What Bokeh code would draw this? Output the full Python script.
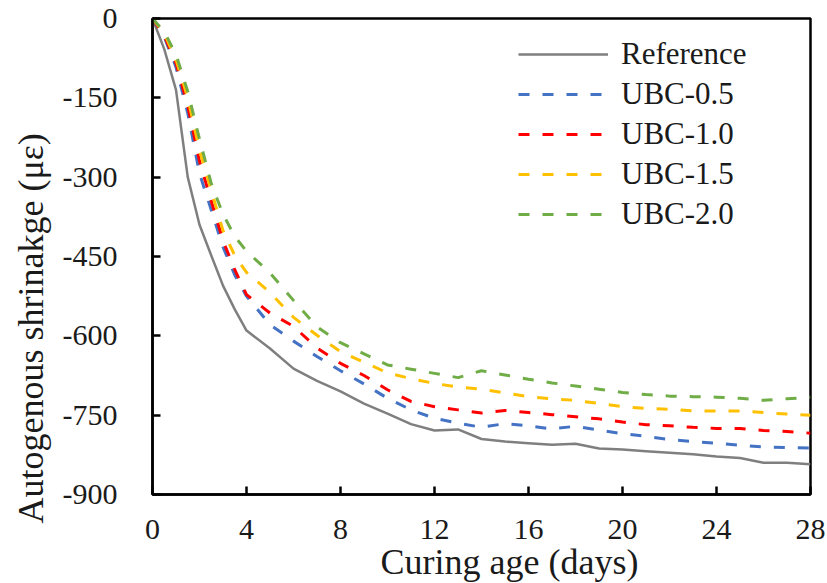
from bokeh.plotting import figure
from bokeh.models import Range1d, FixedTicker, Legend, LegendItem, Title
from bokeh.embed import file_html
from bokeh.resources import INLINE

# Curing age (days)
days = [0, 0.5, 1, 1.5, 2, 2.5, 3, 3.5, 4,
        5, 6, 7, 8, 9, 10, 11, 12, 13, 14, 15, 16, 17, 18, 19, 20,
        21, 22, 23, 24, 25, 26, 27, 28]

reference = [0, -58, -135, -300, -390, -448, -505, -550, -590,
             -624, -662, -685, -705, -728, -747, -767, -779, -777, -795, -800, -803, -806, -804, -813, -815,
             -818, -821, -824, -828, -831, -840, -840, -843]
ubc_05 = [0, -35, -92, -179, -293, -362, -432, -485, -525,
          -579, -610, -639, -666, -691, -718, -740, -756, -765, -773, -766, -770, -776, -771, -778, -785,
          -790, -796, -800, -803, -807, -810, -811, -812]
ubc_10 = [0, -32, -85, -165, -270, -345, -420, -475, -522,
          -557, -582, -623, -652, -675, -702, -724, -734, -740, -746, -741, -745, -749, -753, -757, -763,
          -768, -770, -773, -775, -775, -779, -781, -784]
ubc_15 = [0, -28, -78, -150, -249, -325, -401, -448, -480,
          -518, -565, -599, -630, -650, -670, -681, -690, -697, -701, -708, -715, -719, -722, -728, -734,
          -737, -739, -742, -742, -742, -745, -748, -750]
ubc_20 = [0, -25, -68, -138, -228, -312, -370, -412, -440,
          -481, -533, -583, -613, -634, -655, -663, -671, -679, -666, -674, -682, -689, -695, -701, -707,
          -711, -714, -715, -716, -718, -722, -719, -716]

series_names = ["Reference", "UBC-0.5", "UBC-1.0", "UBC-1.5", "UBC-2.0"]
series_values = [reference, ubc_05, ubc_10, ubc_15, ubc_20]
series_colors = ["#7f7f7f", "#4472C4", "#FF0000", "#FFC000", "#70AD47"]

x_ticks = [0, 4, 8, 12, 16, 20, 24, 28]
y_ticks = [0, -150, -300, -450, -600, -750, -900]
y_tick_labels = ["0", "-150", "-300", "-450", "-600", "-750", "-900"]

FONT = "Liberation Serif"
TXT = "#1a1a1a"

p = figure(frame_width=658, frame_height=476,
           min_border_left=152, min_border_right=15, min_border_top=18, min_border_bottom=88,
           x_range=Range1d(0, 28), y_range=Range1d(-900, 0),
           output_backend="svg", toolbar_location=None,
           background_fill_color="white", border_fill_color="white")
p.xgrid.visible = False
p.ygrid.visible = False
p.outline_line_color = "black"
p.outline_line_width = 2.5

items = []
for i, (name, vals, col) in enumerate(zip(series_names, series_values, series_colors)):
    if i == 0:
        r = p.line(days, vals, line_color=col, line_width=2.5)
    else:
        r = p.line(days, vals, line_color=col, line_width=3, line_dash="11 13")
    items.append(LegendItem(label=name, renderers=[r]))

for ax in (p.xaxis[0], p.yaxis[0]):
    ax.axis_line_color = "black"
    ax.axis_line_width = 2.5
    ax.major_tick_line_color = "black"
    ax.major_tick_line_width = 2.5
    ax.major_tick_in = 8
    ax.major_tick_out = 0
    ax.minor_tick_line_color = None
    ax.major_label_text_font = FONT
    ax.major_label_text_font_size = "30px"
    ax.major_label_text_color = TXT

p.xaxis.ticker = FixedTicker(ticks=x_ticks)
p.yaxis.ticker = FixedTicker(ticks=y_ticks)
p.yaxis.major_label_overrides = {t: l for t, l in zip(y_ticks, y_tick_labels)}
p.xaxis.major_label_standoff = 25
p.yaxis.major_label_standoff = 35

x_title = Title(text="Curing age (days)", align="left", offset=228, standoff=-4,
                text_font=FONT, text_font_size="36px", text_font_style="normal", text_color=TXT)
y_title = Title(text="Autogenous shrinakge (με)", align="left", offset=-29, standoff=17,
                text_font=FONT, text_font_size="36px", text_font_style="normal", text_color=TXT)
p.add_layout(x_title, "below")
p.add_layout(y_title, "left")

legend = Legend(items=items, location=(366, 262))
legend.label_text_font = FONT
legend.label_text_font_size = "31px"
legend.label_text_color = TXT
legend.glyph_width = 90
legend.glyph_height = 20
legend.label_standoff = 13
legend.spacing = 4
legend.padding = 0
legend.margin = 0
legend.border_line_color = None
legend.background_fill_alpha = 0
p.add_layout(legend)

open("out.html", "w").write(file_html(p, INLINE))
